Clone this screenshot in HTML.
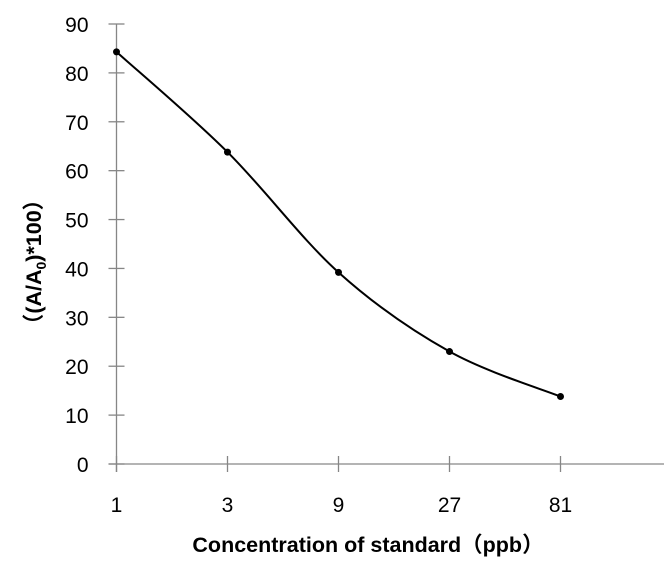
<!DOCTYPE html>
<html><head><meta charset="utf-8"><style>
html,body{margin:0;padding:0;background:#fff;}
svg{display:block;}
</style></head><body>
<svg id="chart" width="664" height="571" viewBox="0 0 664 571" xmlns="http://www.w3.org/2000/svg" font-family="'Liberation Sans','Noto Sans CJK SC',sans-serif">
<g id="axes"></g>
<g id="series"></g>
<text x="368" y="552" text-anchor="middle" font-size="21.5" font-weight="bold" fill="#000">Concentration of standard（ppb）</text>
<text transform="translate(41,262) rotate(-90)" text-anchor="middle" font-size="21.5" font-weight="bold" fill="#000">（(A/A<tspan font-size="14" dy="5">0</tspan><tspan dy="-5">)*100）</tspan></text>
</svg>
<script>
const categories = ["1","3","9","27","81"];
const values = [84.3, 63.8, 39.2, 23.0, 13.8];
const yTicks = [0,10,20,30,40,50,60,70,80,90];

const NS="http://www.w3.org/2000/svg";
const x0=116.5, xStep=111, y0=464, yTop=24, yMax=90;
function xs(i){return x0+i*xStep;}
function ys(v){return y0-(v/yMax)*(y0-yTop);}
function mk(tag,attrs,parent){const e=document.createElementNS(NS,tag);for(const k in attrs)e.setAttribute(k,attrs[k]);parent.appendChild(e);return e;}
const axes=document.getElementById('axes'), series=document.getElementById('series');
const yAxis=mk('line',{x1:x0,y1:yTop,x2:x0,y2:y0+8,stroke:'#868686','stroke-width':1.3},axes);


const xAxis=mk('line',{x1:x0-8,y1:y0,x2:664,y2:y0,stroke:'#868686','stroke-width':1.3},axes);


yTicks.forEach(t=>{
  const l=mk('line',{x1:x0-8,x2:x0+8,y1:ys(t),y2:ys(t),stroke:'#868686','stroke-width':1.3},axes);
  
  
  const tx=mk('text',{x:x0-28,y:ys(t)+8,'text-anchor':'end','font-size':21,fill:'#000'},axes);
  tx.textContent=t;
  
  
});
categories.forEach((c,i)=>{
  const l=mk('line',{x1:xs(i),x2:xs(i),y1:y0-8,y2:y0+8,stroke:'#868686','stroke-width':1.3},axes);
  
  
  const tx=mk('text',{x:xs(i),y:512,'text-anchor':'middle','font-size':21,fill:'#000'},axes);
  tx.textContent=c;
  
  
});
const pts=values.map((v,i)=>[xs(i),ys(v)]);
let d=`M${pts[0][0]},${pts[0][1]}`;
for(let i=0;i<pts.length-1;i++){
  const p0=pts[Math.max(0,i-1)],p1=pts[i],p2=pts[i+1],p3=pts[Math.min(pts.length-1,i+2)];
  const k=1/6;
  const c1=[p1[0]+(p2[0]-p0[0])*k,p1[1]+(p2[1]-p0[1])*k];
  const c2=[p2[0]-(p3[0]-p1[0])*k,p2[1]-(p3[1]-p1[1])*k];
  d+=` C${c1[0]},${c1[1]} ${c2[0]},${c2[1]} ${p2[0]},${p2[1]}`;
}
const path=mk('path',{d:d,fill:'none',stroke:'#000','stroke-width':2},series);


pts.forEach(p=>{
  const c=mk('circle',{cx:p[0],cy:p[1],r:3.5,fill:'#000'},series);
  
  
});
</script>
</body></html>
